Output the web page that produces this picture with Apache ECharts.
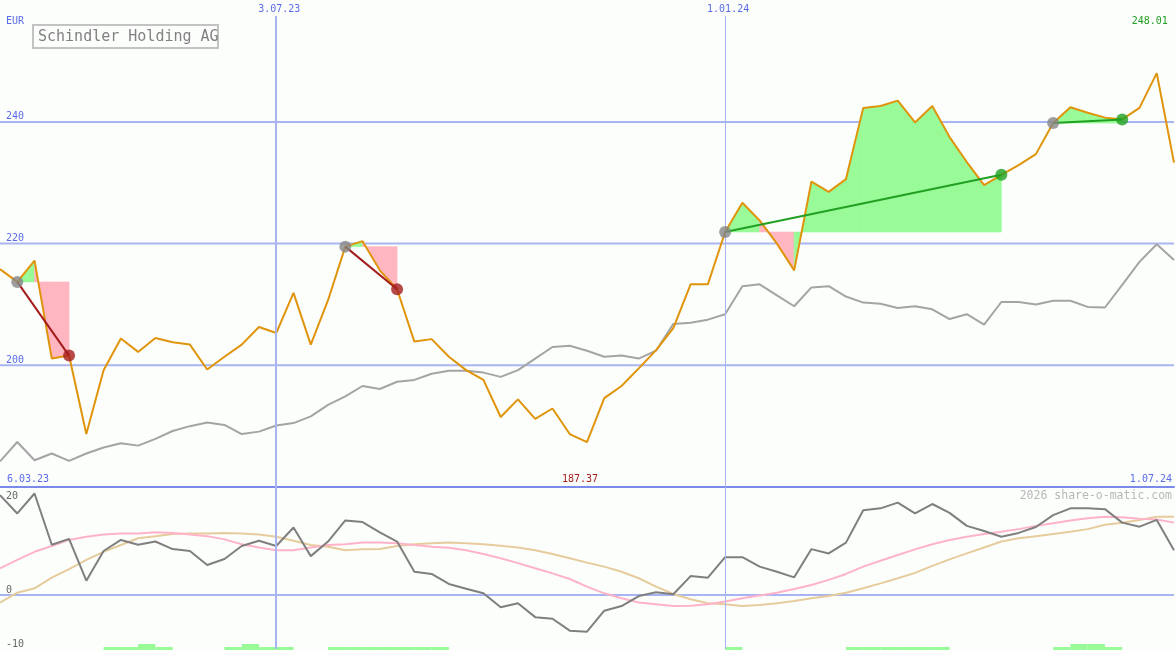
<!DOCTYPE html>
<html><head><meta charset="utf-8">
<script src="https://cdn.jsdelivr.net/npm/echarts@6/dist/echarts.min.js"></script>
<style>html,body{margin:0;padding:0;background:#fcfefc}#c{width:1175px;height:650px}</style>
</head><body><div id="c"></div>
<script>
// ---------- data ----------
const title = 'Schindler Holding AG';
const currency = 'EUR';
const startLabel = '6.03.23';
const endLabel = '1.07.24';
const watermark = '2026 share-o-matic.com';
const dateLineIdx = [16, 42];
const dateLineLabels = ['3.07.23', '1.01.24'];
const priceTicks = [200, 220, 240];
const oscTicks = [-10, 0, 20];

const price = [215.8, 213.7, 217.2, 201.1, 201.6, 188.7, 199.2, 204.4, 202.2, 204.5,
  203.8, 203.4, 199.3, 201.4, 203.4, 206.3, 205.3, 211.9, 203.4, 210.7,
  219.5, 220.4, 215.6, 212.5, 203.9, 204.3, 201.4, 199.2, 197.6, 191.5,
  194.4, 191.2, 192.9, 188.7, 187.37, 194.6, 196.6, 199.5, 202.5, 206.1,
  213.3, 213.3, 221.9, 226.7, 223.8, 220.0, 215.6, 230.2, 228.5, 230.6,
  242.3, 242.6, 243.5, 239.9, 242.6, 237.5, 233.4, 229.6, 231.3, 232.9,
  234.7, 239.8, 242.4, 241.5, 240.7, 240.4, 242.3, 248.01, 233.3];

const bench = [184.2, 187.4, 184.4, 185.5, 184.3, 185.5, 186.5, 187.2, 186.8, 187.9,
  189.2, 190.0, 190.6, 190.2, 188.7, 189.1, 190.1, 190.5, 191.6, 193.5,
  194.9, 196.6, 196.1, 197.3, 197.6, 198.6, 199.1, 199.1, 198.8, 198.1,
  199.2, 201.1, 203.0, 203.2, 202.4, 201.4, 201.6, 201.1, 202.4, 206.8,
  207.0, 207.5, 208.4, 213.0, 213.3, 211.5, 209.7, 212.8, 213.0, 211.3,
  210.3, 210.1, 209.4, 209.7, 209.2, 207.6, 208.4, 206.7, 210.4, 210.4,
  210.0, 210.6, 210.6, 209.6, 209.5, 213.2, 217.0, 219.9, 217.3];

const momentum = [18.5, 15.1, 18.8, 9.3, 10.4, 2.65, 8.15, 10.2, 9.3, 9.9,
  8.5, 8.15, 5.55, 6.67, 9.07, 10.06, 9.07, 12.5, 7.2, 9.9,
  13.8, 13.5, 11.6, 9.9, 4.3, 3.9, 2.04, 1.17, 0.31, -2.28,
  -1.54, -4.1, -4.4, -6.6, -6.8, -2.9, -2.04, -0.19, 0.5, 0.13,
  3.5, 3.2, 7.0, 7.0, 5.25, 4.3, 3.27, 8.5, 7.7, 9.7,
  15.7, 16.05, 17.1, 15.1, 16.85, 15.2, 12.8, 11.85, 10.8, 11.5,
  12.6, 14.8, 16.05, 16.05, 15.9, 13.4, 12.65, 13.9, 8.3];

const avgFast = [4.94, 6.5, 8.0, 9.07, 10.2, 10.8, 11.2, 11.4, 11.4, 11.6,
  11.5, 11.2, 10.9, 10.3, 9.4, 8.8, 8.3, 8.3, 8.8, 9.26,
  9.4, 9.7, 9.7, 9.6, 9.26, 8.95, 8.77, 8.3, 7.6, 6.8,
  5.9, 4.94, 4.0, 2.96, 1.54, 0.31, -0.6, -1.4, -1.7, -2.04,
  -2.0, -1.7, -1.2, -0.6, -0.1, 0.43, 1.1, 1.85, 2.8, 3.9,
  5.25, 6.35, 7.4, 8.45, 9.4, 10.2, 10.8, 11.3, 11.7, 12.2,
  12.8, 13.3, 13.8, 14.2, 14.5, 14.4, 14.1, 14.0, 13.4];

const avgSlow = [-1.4, 0.43, 1.24, 3.2, 4.8, 6.5, 8.0, 9.26, 10.5, 10.9,
  11.3, 11.4, 11.4, 11.5, 11.4, 11.2, 10.8, 10.06, 9.26, 8.95,
  8.3, 8.45, 8.5, 9.07, 9.4, 9.6, 9.7, 9.6, 9.4, 9.1,
  8.8, 8.3, 7.6, 6.8, 6.0, 5.25, 4.3, 3.1, 1.54, 0.19,
  -0.8, -1.54, -1.7, -2.04, -1.85, -1.54, -1.1, -0.6, -0.19, 0.43,
  1.24, 2.16, 3.1, 4.1, 5.4, 6.6, 7.7, 8.8, 9.9, 10.5,
  10.9, 11.3, 11.7, 12.2, 13.0, 13.4, 13.9, 14.5, 14.5];

// one value per interval between consecutive weeks (0 = none, 1 = weak, 2 = strong)
const signal = [0,0,0,0,0,0,1,1,2,1,
  0,0,0,1,2,1,1,0,0,1,
  1,1,1,1,1,1,0,0,0,0,
  0,0,0,0,0,0,0,0,0,0,
  0,0,1,0,0,0,0,0,0,1,
  1,1,1,1,1,0,0,0,0,0,
  0,1,2,2,1,0,0,0];

const tradeEntry = [1, 20, 42, 61];
const tradeExit  = [4, 23, 58, 65];

// ---------- chart ----------
const N = price.length;
const mono = '"DejaVu Sans Mono", monospace';
const BLUE = '#5b6be8', GRIDC = '#a9b5f2', SEP = '#7b89ea';
const GREEN_FILL = '#98fb98', PINK_FILL = '#ffb6c1';
const WIN = '#21a021', LOSS = '#a41c1c';

const pairs = arr => arr.map((v, i) => [i, v]);

function hLine(t, xi, yi, extra) {
  return Object.assign({
    type: 'line', xAxisIndex: xi, yAxisIndex: yi,
    data: [[0, t], [N - 1, t]], symbol: 'none', silent: true, z: 1,
    lineStyle: { color: GRIDC, width: 2 }
  }, extra || {});
}

function dateMarkLine(withLabels) {
  return {
    silent: true, symbol: ['none', 'none'], animation: false,
    data: dateLineIdx.map((d, k) => ({
      xAxis: d,
      lineStyle: { color: GRIDC, width: k === 0 ? 2 : 1, type: 'solid' },
      label: withLabels ? {
        show: true, position: 'end', distance: 2, formatter: dateLineLabels[k],
        color: BLUE, fontSize: 10, fontFamily: mono, padding: [0, 0, 0, 6]
      } : { show: false }
    }))
  };
}

const series = [];
priceTicks.forEach((t, k) => series.push(hLine(t, 0, 0, k === 0 ? { markLine: dateMarkLine(true) } : {})));
series.push(hLine(0, 1, 1, { markLine: dateMarkLine(false) }));

series.push({
  name: 'bench', type: 'line', xAxisIndex: 0, yAxisIndex: 0, data: pairs(bench),
  symbol: 'none', z: 2, lineStyle: { color: '#a4a4a4', width: 2 }
});

series.push({
  name: 'fills', type: 'custom', xAxisIndex: 0, yAxisIndex: 0, z: 3, silent: true,
  data: tradeEntry.map((e, k) => [e, tradeExit[k]]),
  renderItem: function (params, api) {
    const k = params.dataIndex;
    const e = tradeEntry[k], x = tradeExit[k];
    const level = price[e];
    const children = [];
    for (let i = e; i < x; i++) {
      const up = price[i + 1] >= level;
      const col = up ? GREEN_FILL : PINK_FILL;
      children.push({
        type: 'polygon',
        shape: { points: [api.coord([i, level]), api.coord([i, price[i]]), api.coord([i + 1, price[i + 1]]), api.coord([i + 1, level])] },
        style: { fill: col, stroke: col, lineWidth: 0.6 }
      });
    }
    return { type: 'group', children };
  }
});

series.push({
  name: 'price', type: 'line', xAxisIndex: 0, yAxisIndex: 0, data: pairs(price),
  symbol: 'none', z: 4, lineStyle: { color: '#df940b', width: 2 }
});

series.push({
  name: 'tradeLines', type: 'custom', xAxisIndex: 0, yAxisIndex: 0, z: 5, silent: true,
  data: tradeEntry.map((e, k) => [e, tradeExit[k]]),
  renderItem: function (params, api) {
    const k = params.dataIndex;
    const e = tradeEntry[k], x = tradeExit[k];
    const p1 = api.coord([e, price[e]]), p2 = api.coord([x, price[x]]);
    return {
      type: 'line', shape: { x1: p1[0], y1: p1[1], x2: p2[0], y2: p2[1] },
      style: { stroke: price[x] >= price[e] ? WIN : LOSS, lineWidth: 2 }
    };
  }
});

series.push({
  name: 'entries', type: 'scatter', xAxisIndex: 0, yAxisIndex: 0, z: 6,
  symbolSize: 12, itemStyle: { color: '#868686' },
  data: tradeEntry.map(e => [e, price[e]])
});
series.push({
  name: 'exits', type: 'scatter', xAxisIndex: 0, yAxisIndex: 0, z: 6,
  symbolSize: 12,
  data: tradeExit.map((x, k) => ({ value: [x, price[x]], itemStyle: { color: price[x] >= price[tradeEntry[k]] ? WIN : LOSS } }))
});

// lower panel
series.push({ name: 'avgSlow', type: 'line', xAxisIndex: 1, yAxisIndex: 1, data: pairs(avgSlow), symbol: 'none', z: 2, lineStyle: { color: '#e6cc9c', width: 2 } });
series.push({ name: 'avgFast', type: 'line', xAxisIndex: 1, yAxisIndex: 1, data: pairs(avgFast), symbol: 'none', z: 3, lineStyle: { color: '#ffb3c8', width: 2 } });
series.push({ name: 'momentum', type: 'line', xAxisIndex: 1, yAxisIndex: 1, data: pairs(momentum), symbol: 'none', z: 4, lineStyle: { color: '#7f7f7f', width: 2 } });
series.push({ name: 'signal', type: 'bar', xAxisIndex: 2, yAxisIndex: 3, data: signal, barWidth: '100%', barCategoryGap: 0, itemStyle: { color: GREEN_FILL }, z: 2, silent: true });

const option = {
  backgroundColor: '#fcfefc',
  animation: false,
  grid: [
    { left: 0, right: 1, top: 16, height: 471 },
    { left: 0, right: 1, top: 487, height: 162 },
    { left: 0, right: 1, top: 644, height: 6 }
  ],
  xAxis: [
    { type: 'value', gridIndex: 0, min: 0, max: N - 1, axisLine: { show: true, onZero: false, lineStyle: { color: SEP, width: 2 } }, axisTick: { show: false }, axisLabel: { show: false }, splitLine: { show: false } },
    { type: 'value', gridIndex: 1, min: 0, max: N - 1, axisLine: { show: false }, axisTick: { show: false }, axisLabel: { show: false }, splitLine: { show: false } },
    { type: 'category', gridIndex: 2, data: signal.map((_, i) => i), boundaryGap: true, show: false }
  ],
  yAxis: [
    { type: 'value', gridIndex: 0, position: 'left', min: 180, max: 257.4, interval: 20, axisLine: { show: false }, axisTick: { show: false }, splitLine: { show: false },
      axisLabel: { inside: true, margin: 6, color: BLUE, fontSize: 10, fontFamily: mono, verticalAlign: 'bottom', formatter: v => priceTicks.includes(v) ? String(v) : '' } },
    { type: 'value', gridIndex: 1, position: 'left', offset: 0, min: -10, max: 20, interval: 10, axisLine: { show: false }, axisTick: { show: false }, splitLine: { show: false },
      axisLabel: { inside: true, margin: 6, color: '#666666', fontSize: 10, fontFamily: mono, verticalAlign: 'bottom', formatter: v => (oscTicks.includes(v) && v < 20) ? String(v) : '' } },
    { type: 'value', gridIndex: 1, position: 'left', offset: 0, min: -10, max: 20, interval: 10, axisLine: { show: false }, axisTick: { show: false }, splitLine: { show: false },
      axisLabel: { inside: true, margin: 6, color: '#666666', fontSize: 10, fontFamily: mono, verticalAlign: 'top', padding: [4, 0, 0, 0], formatter: v => (v === 20 && oscTicks.includes(v)) ? String(v) : '' } },
    { type: 'value', gridIndex: 2, min: 0, max: 2, show: false }
  ],
  series
};

const chart = echarts.init(document.getElementById('c'));
chart.setOption(option);

// text annotations (min/max labels are placed at their data index)
let maxI = 0, minI = 0;
price.forEach((v, i) => { if (v > price[maxI]) maxI = i; if (v < price[minI]) minI = i; });
const xMax = chart.convertToPixel({ xAxisIndex: 0 }, maxI);
const xMin = chart.convertToPixel({ xAxisIndex: 0 }, minI);
const txt = (text, x, y, fill, align, size) => ({
  type: 'text', x, y, silent: true, z: 100,
  style: { text, fill, font: (size || 10) + 'px ' + mono, align, verticalAlign: 'middle' }
});
chart.setOption({
  graphic: [
    txt(currency, 6, 21, BLUE, 'left'),
    { type: 'rect', shape: { x: 33, y: 25, width: 185, height: 23 }, style: { fill: 'rgba(0,0,0,0)', stroke: '#c3c3c3', lineWidth: 2 }, z: 100, silent: true },
    txt(title, 38, 37, '#808080', 'left', 15),
    txt(price[maxI].toFixed(2), xMax - 7, 21, WIN, 'center'),
    txt(price[minI].toFixed(2), xMin - 7, 479, LOSS, 'center'),
    txt(startLabel, 7, 479, BLUE, 'left'),
    txt(endLabel, 1172, 479, BLUE, 'right'),
    txt(watermark, 1172, 496, '#b8b8b8', 'right', 11.5)
  ]
});
</script></body></html>
